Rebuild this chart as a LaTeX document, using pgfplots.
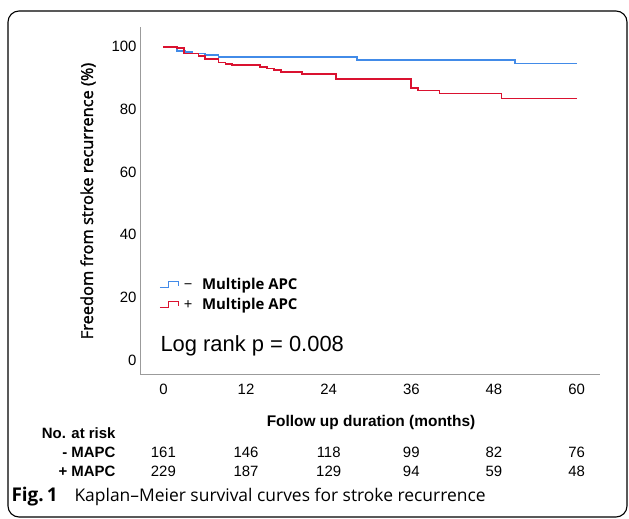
\documentclass[border=0pt]{standalone}
\usepackage{fontspec}
\setmainfont{Liberation Sans}
\newfontfamily\osans{Open Sans}
\newfontfamily\osansfb{Open Sans}[FakeBold=1.6]
\usepackage{pgfplots}
\pgfplotsset{compat=1.18}

\definecolor{kmblue}{RGB}{66,139,232}
\definecolor{kmred}{RGB}{218,18,48}
\definecolor{axgray}{RGB}{155,155,155}

% survival curves (months, %)
\pgfplotstableread{
t s
0    100
2.0  98.7
3.2  98.4
4.1  97.8
6.0  97.3
8.0  96.7
28.1 95.8
51.1 94.6
60   94.6
}\noMAPC
\pgfplotstableread{
t s
0    100
2.0  99.5
3.0  97.8
5.1  97.0
6.0  96.0
8.0  95.0
9.0  94.5
10.0 94.1
14.0 93.6
15.0 93.0
16.1 92.5
17.1 91.9
20.1 91.2
25.1 89.6
36.0 86.9
37.0 86.0
40.1 85.1
49.1 83.5
60   83.5
}\withMAPC

\begin{document}
\begin{tikzpicture}[x=1bp,y=1bp]
\useasboundingbox (0,0) rectangle (629,519);
\begin{scope}
  \clip (0,0) rectangle (629,519);
  \draw[line width=1.1bp, rounded corners=11bp] (8,2) rectangle (627,508);
\end{scope}

\begin{axis}[
    at={(140bp,144bp)}, anchor=south west,
    scale only axis, width=460bp, height=348bp,
    axis x line*=bottom, axis y line*=left,
    axis line style={axgray, line width=1bp},
    xmin=-3.4, xmax=63.4, ymin=-4.8, ymax=106.3,
    xtick={0,12,24,36,48,60}, ytick={0,20,40,60,80,100},
    major tick length=0pt,
    tick label style={font=\fontsize{15}{18}\selectfont},
    xticklabel style={yshift=-6bp},
    /pgf/number format/assume math mode=true,
    legend style={at={(0.035,0.29)}, anchor=north west, draw=none, fill=none,
        font=\osans\fontsize{15}{18}\selectfont, row sep=3bp},
    legend cell align=left,
    legend image code/.code={\draw[#1, line width=1bp] (0bp,-3bp) -- (9bp,-3bp) -- (9bp,3.5bp) -- (19bp,3.5bp) -- (19bp,-1bp);},
]
\addplot[const plot, kmblue, line width=1.7bp] table[x=t, y=s] {\noMAPC};
\addlegendentry{\,−\hspace{0.65em}\textbf{Multiple APC}}
\addplot[const plot, kmred, line width=1.7bp] table[x=t, y=s] {\withMAPC};
\addlegendentry{\,+\hspace{0.65em}\textbf{Multiple APC}}
\end{axis}

\node[anchor=west, font=\fontsize{22}{25}\selectfont] at (157,173) {Log rank p = 0.008};

\node[rotate=90, font=\osansfb\fontsize{16.5}{19}\selectfont] at (88,318) {Freedom from stroke recurrence (\%)};
\node[font=\bfseries\fontsize{15.5}{18}\selectfont] at (371,96) {Follow up duration (months)};

\node[anchor=east, font=\bfseries\fontsize{15}{18}\selectfont] at (119,86) {No. at risk};
\node[anchor=east, font=\bfseries\fontsize{15}{18}\selectfont] at (119,67) {- MAPC};
\node[anchor=east, font=\bfseries\fontsize{15}{18}\selectfont] at (119,48) {+ MAPC};
\foreach \m/\a/\b in {0/161/229, 12/146/187, 24/118/129, 36/99/94, 48/82/59, 60/76/48} {
  \node[font=\fontsize{15}{18}\selectfont] at (163.4+\m*6.886,67) {\a};
  \node[font=\fontsize{15}{18}\selectfont] at (163.4+\m*6.886,48) {\b};
}

\node[anchor=west, font=\osans\bfseries\fontsize{19}{22}\selectfont] at (8,22) {Fig.\,1};
\node[anchor=west, font=\osans\fontsize{17.5}{21}\selectfont] at (71,22) {Kaplan–Meier survival curves for stroke recurrence};
\end{tikzpicture}
\end{document}
